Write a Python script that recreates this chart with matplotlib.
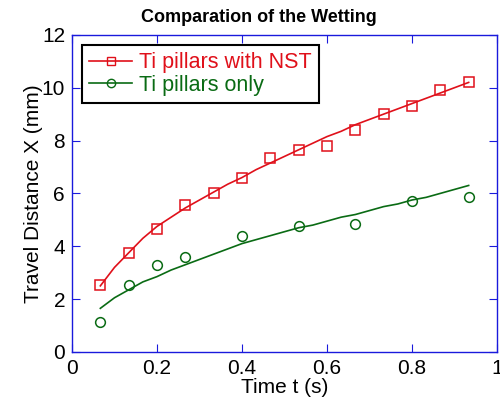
import matplotlib
matplotlib.use("Agg")
import matplotlib.pyplot as plt

plt.rcParams['font.family'] = ['Liberation Sans', 'DejaVu Sans']

# measured points (markers)
t_nst = [0.0667, 0.1333, 0.2, 0.2667, 0.3333, 0.4, 0.4667, 0.5333, 0.6, 0.6667, 0.7333, 0.8, 0.8667, 0.9333]
x_nst = [2.55, 3.75, 4.65, 5.55, 6.0, 6.6, 7.35, 7.65, 7.8, 8.4, 9.0, 9.3, 9.9, 10.2]
t_only = [0.0667, 0.1333, 0.2, 0.2667, 0.4, 0.5333, 0.6667, 0.8, 0.9333]
x_only = [1.15, 2.55, 3.3, 3.6, 4.4, 4.75, 4.85, 5.7, 5.85]

# fitted curves
t_fit = [0.0667, 0.1, 0.1333, 0.1667, 0.2, 0.2333, 0.2667, 0.3, 0.3333, 0.3667, 0.4, 0.4333, 0.4667, 0.5,
         0.5333, 0.5667, 0.6, 0.6333, 0.6667, 0.7, 0.7333, 0.7667, 0.8, 0.8333, 0.8667, 0.9, 0.9333]
fit_nst = [2.5, 3.2, 3.75, 4.3, 4.75, 5.1, 5.45, 5.75, 6.05, 6.35, 6.6, 6.9, 7.15, 7.4,
           7.65, 7.9, 8.15, 8.35, 8.6, 8.8, 9.0, 9.2, 9.4, 9.6, 9.8, 10.0, 10.2]
fit_only = [1.65, 2.05, 2.35, 2.65, 2.85, 3.1, 3.3, 3.5, 3.7, 3.9, 4.1, 4.25, 4.4, 4.55,
            4.7, 4.8, 4.95, 5.1, 5.2, 5.35, 5.5, 5.6, 5.75, 5.85, 6.0, 6.15, 6.3]

red = '#e0101a'
green = '#0a6b14'
blue = '#1a1adc'

fig = plt.figure(figsize=(5, 4.15), dpi=100)
ax = fig.add_axes([0.144, 0.152, 0.85, 0.764])

ax.plot(t_fit, fit_nst, color=red, lw=1.2)
ax.plot(t_fit, fit_only, color=green, lw=1.2)
ax.plot(t_nst, x_nst, 's', color=red, mfc='none', ms=7, mew=1.1)
ax.plot(t_only, x_only, 'o', color=green, mfc='none', ms=7, mew=1.1)

# legend handles: line + marker
h1, = ax.plot([], [], '-s', color=red, mfc='none', ms=6, lw=1.2)
h2, = ax.plot([], [], '-o', color=green, mfc='none', ms=6, lw=1.2)
leg = ax.legend([h1, h2], ['Ti pillars with NST', 'Ti pillars only'], loc='upper left',
                fontsize=15.5, fancybox=False, framealpha=1, edgecolor='black',
                handlelength=2.0, handletextpad=0.3, borderpad=0.35, labelspacing=0.08,
                borderaxespad=0.45)
leg.get_frame().set_linewidth(1.5)
leg.texts[0].set_color(red)
leg.texts[1].set_color(green)

ax.set_xlim(0, 1)
ax.set_ylim(0, 12)
ax.set_xticks([0, 0.2, 0.4, 0.6, 0.8, 1])
ax.set_xticklabels(['0', '0.2', '0.4', '0.6', '0.8', '1'])
ax.set_yticks(range(0, 13, 2))

for s in ax.spines.values():
    s.set_color(blue)
    s.set_linewidth(1.0)
ax.tick_params(direction='in', top=True, right=True, color=blue, length=6,
               labelsize=15, labelcolor='black', pad=5)

ax.set_xlabel('Time t (s)', fontsize=15, labelpad=0)
ax.set_ylabel('Travel Distance X (mm)', fontsize=15)
ax.yaxis.set_label_coords(-0.068, 0.5)
ax.set_title('Comparation of the Wetting', fontsize=13, fontweight='bold', pad=9, x=0.44)

fig.savefig('out.png', dpi=100)
